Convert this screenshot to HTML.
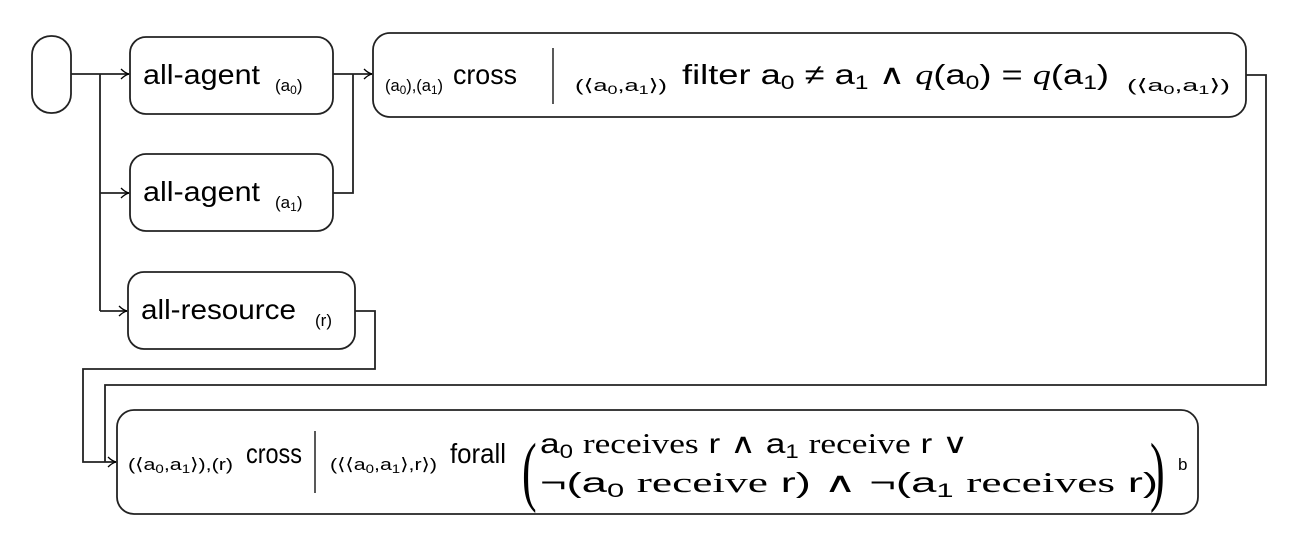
<!DOCTYPE html>
<html><head><meta charset="utf-8"><style>
html,body{margin:0;padding:0;background:#fff;}
svg{display:block;}
text{font-family:"Liberation Sans","DejaVu Sans",sans-serif;fill:#000;}
.s{font-size:17px;}
.b{font-size:28px;}
.r{font-family:"Liberation Serif","DejaVu Serif",serif;}
</style></head><body>
<svg width="1305" height="547" viewBox="0 0 1305 547" xmlns="http://www.w3.org/2000/svg">
<defs><marker id="a" markerWidth="10" markerHeight="12" refX="9" refY="6" orient="auto" markerUnits="userSpaceOnUse"><path d="M1,1 Q5,5 9,6 Q5,7 1,11" fill="none" stroke="#000" stroke-width="1.3"/></marker></defs>
<g fill="none" stroke="#222" stroke-width="1.8">
<rect x="32" y="36" width="39" height="77" rx="19"/>
<rect x="130" y="37" width="203" height="77" rx="16"/>
<rect x="130" y="154" width="203" height="77" rx="16"/>
<rect x="128" y="272" width="227" height="77" rx="16"/>
<rect x="373" y="33" width="873" height="84" rx="17"/>
<rect x="117" y="410" width="1081" height="104" rx="17"/>
<path d="M71,74 H129" marker-end="url(#a)"/>
<path d="M100,74 V311"/>
<path d="M100,193 H129" marker-end="url(#a)"/>
<path d="M100,311 H127" marker-end="url(#a)"/>
<path d="M333,74 H372" marker-end="url(#a)"/>
<path d="M333,193 H353 V74"/>
<path d="M355,311 H375 V369 H83 V462 H116" marker-end="url(#a)"/>
<path d="M1246,75 H1266 V385 H105 V462"/>
<path d="M553,48 V104 M315,431 V493" stroke-width="1.5"/>
</g>
<g lengthAdjust="spacingAndGlyphs">
<text x="143" y="84" class="b" textLength="117" lengthAdjust="spacingAndGlyphs">all-agent</text><text x="275" y="91" class="s">(a<tspan font-size="12" dy="3">0</tspan><tspan dy="-3">)</tspan></text>
<text x="143" y="201" class="b" textLength="117" lengthAdjust="spacingAndGlyphs">all-agent</text><text x="275" y="208" class="s">(a<tspan font-size="12" dy="3">1</tspan><tspan dy="-3">)</tspan></text>
<text x="141" y="319" class="b" textLength="155" lengthAdjust="spacingAndGlyphs">all-resource</text><text x="315" y="326" class="s">(r)</text>
<text x="385" y="91" class="s" textLength="58" lengthAdjust="spacingAndGlyphs">(a<tspan font-size="12" dy="3">0</tspan><tspan dy="-3">),(a</tspan><tspan font-size="12" dy="3">1</tspan><tspan dy="-3">)</tspan></text>
<text x="453" y="84" class="b" textLength="64" lengthAdjust="spacingAndGlyphs">cross</text>
<text x="575" y="91" class="s" textLength="92" lengthAdjust="spacingAndGlyphs">(⟨a<tspan font-size="12" dy="3">0</tspan><tspan dy="-3">,a</tspan><tspan font-size="12" dy="3">1</tspan><tspan dy="-3">⟩)</tspan></text>
<text x="682" y="84" class="b" textLength="427" lengthAdjust="spacingAndGlyphs">filter a<tspan font-size="19" dy="5">0</tspan><tspan dy="-5"> ≠ a</tspan><tspan font-size="19" dy="5">1</tspan><tspan dy="-5"> ∧ </tspan><tspan class="r" font-style="italic">q</tspan>(a<tspan font-size="19" dy="5">0</tspan><tspan dy="-5">) = </tspan><tspan class="r" font-style="italic">q</tspan>(a<tspan font-size="19" dy="5">1</tspan><tspan dy="-5">)</tspan></text>
<text x="1127" y="91" class="s" textLength="103" lengthAdjust="spacingAndGlyphs">(⟨a<tspan font-size="12" dy="3">0</tspan><tspan dy="-3">,a</tspan><tspan font-size="12" dy="3">1</tspan><tspan dy="-3">⟩)</tspan></text>
<text x="128" y="470" class="s" textLength="105" lengthAdjust="spacingAndGlyphs">(⟨a<tspan font-size="12" dy="3">0</tspan><tspan dy="-3">,a</tspan><tspan font-size="12" dy="3">1</tspan><tspan dy="-3">⟩),(r)</tspan></text>
<text x="246" y="463" class="b" textLength="56" lengthAdjust="spacingAndGlyphs">cross</text>
<text x="330" y="470" class="s" textLength="107" lengthAdjust="spacingAndGlyphs">(⟨⟨a<tspan font-size="12" dy="3">0</tspan><tspan dy="-3">,a</tspan><tspan font-size="12" dy="3">1</tspan><tspan dy="-3">⟩,r⟩)</tspan></text>
<text x="450" y="463" class="b" textLength="56" lengthAdjust="spacingAndGlyphs">forall</text>
<text x="522" y="486" font-size="44" class="r" transform="translate(0,472) scale(1,1.75) translate(0,-472)">(</text>
<text x="1150" y="486" font-size="44" class="r" transform="translate(0,472) scale(1,1.75) translate(0,-472)">)</text>
<text x="540" y="453" class="b" textLength="428" lengthAdjust="spacingAndGlyphs">a<tspan font-size="19" dy="5">0</tspan><tspan dy="-5"> </tspan><tspan class="r">receives</tspan> r ∧ a<tspan font-size="19" dy="5">1</tspan><tspan dy="-5"> </tspan><tspan class="r">receive</tspan> r ∨</text>
<text x="540" y="492" class="b" textLength="618" lengthAdjust="spacingAndGlyphs">¬(a<tspan font-size="19" dy="5">0</tspan><tspan dy="-5"> </tspan><tspan class="r">receive</tspan> r) ∧ ¬(a<tspan font-size="19" dy="5">1</tspan><tspan dy="-5"> </tspan><tspan class="r">receives</tspan> r)</text>
<text x="1178" y="470" class="s">b</text>
</g>
</svg>
</body></html>
